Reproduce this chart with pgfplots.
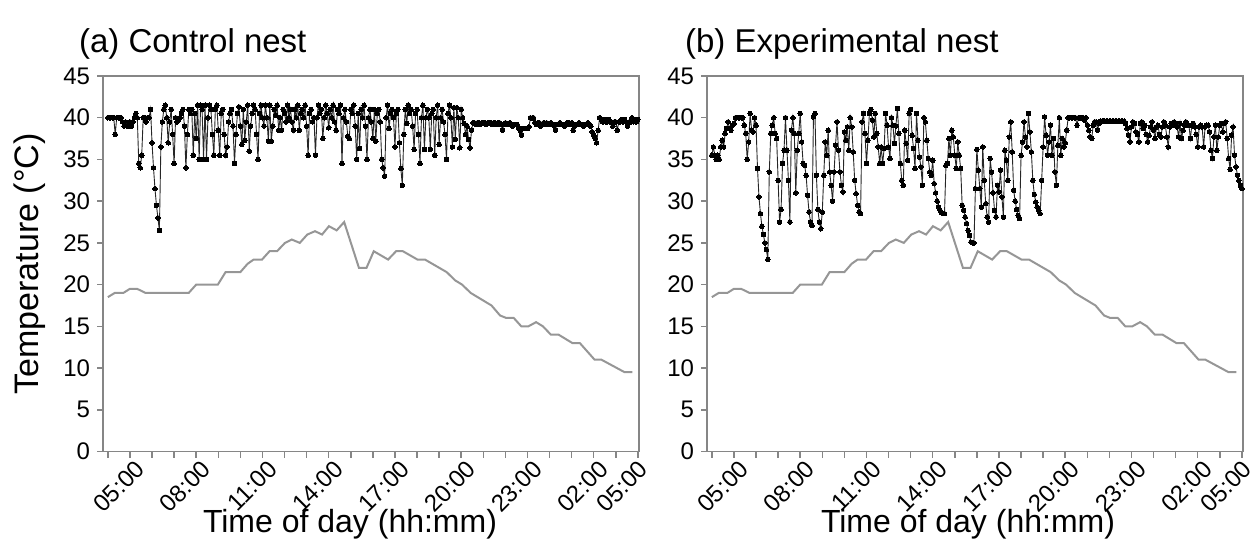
\documentclass[border=0pt]{standalone}
\usepackage{fontspec}
\setmainfont{Liberation Sans}
\usepackage{pgfplots}
\usepackage{pgfplotstable}
\pgfplotsset{compat=1.18}

\definecolor{axgray}{RGB}{134,134,134}
\definecolor{ambgray}{RGB}{150,150,150}

% ambient temperature, hours after 05:00
\pgfplotstableread{
h T
0 18.5
0.31 19
0.7 19
1.0 19.5
1.32 19.5
1.71 19
3.66 19
4.0 20
4.98 20
5.33 21.5
6.0 21.5
6.33 22.5
6.6 23
6.98 23
7.32 24
7.66 24
8.02 25
8.33 25.4
8.69 25
9.03 26
9.38 26.4
9.7 26
10.01 27
10.36 26.5
10.7 27.5
11.37 22
11.71 22
12.04 24
12.69 23
13.05 24
13.36 24
14.02 23
14.36 23
15.34 21.5
15.73 20.5
16.04 20
16.43 19
17.37 17.5
17.76 16.3
18.04 16
18.38 16
18.72 15
19.04 15
19.39 15.5
19.7 15
20.06 14
20.41 14
21.03 13
21.37 13
22.04 11
22.35 11
23.4 9.5
23.75 9.5
}\ambient

% control nest, one reading every 4 min from 05:00 (15 per row = 1 h)
\pgfplotstableread[row sep=\\]{
T\\
40\\ 40\\ 40\\ 40\\ 40\\ 38\\ 40\\ 40\\ 40\\ 40\\ 39.5\\ 39\\ 39.5\\ 39\\ 39\\
39.5\\ 39\\ 39.5\\ 40\\ 40.5\\ 40\\ 34.5\\ 34\\ 35.5\\ 40\\ 40\\ 39.5\\ 40\\ 40\\ 41\\
37\\ 34\\ 31.5\\ 29.5\\ 28\\ 26.5\\ 36.5\\ 39.5\\ 41\\ 41.5\\ 40\\ 37\\ 39.5\\ 41\\ 38\\
34.5\\ 40\\ 39.5\\ 39.7\\ 40\\ 40.5\\ 41\\ 39\\ 34\\ 38\\ 41\\ 40.5\\ 41\\ 35.5\\ 40.5\\
37.5\\ 41.5\\ 35\\ 41.5\\ 41\\ 35\\ 41.5\\ 35\\ 40\\ 41.5\\ 41\\ 38\\ 35.5\\ 41\\ 41.5\\
38.5\\ 35.5\\ 40.5\\ 41\\ 38\\ 35.5\\ 36.5\\ 39.5\\ 40.5\\ 41\\ 39\\ 34.5\\ 38\\ 40.5\\ 41.3\\
39\\ 36.8\\ 41\\ 37.3\\ 39.5\\ 41.5\\ 36\\ 39\\ 40.5\\ 41.5\\ 41\\ 38\\ 35\\ 40.5\\ 41.5\\
40\\ 39\\ 41.5\\ 40\\ 37.2\\ 41.5\\ 37.2\\ 39\\ 41\\ 40.3\\ 41.5\\ 38.5\\ 40\\ 38.5\\ 41\\
40.5\\ 39.5\\ 41.5\\ 40\\ 41\\ 39.5\\ 38.5\\ 41\\ 40\\ 41.5\\ 38.5\\ 40.5\\ 41\\ 40\\ 41.5\\
39\\ 35.5\\ 40.5\\ 41\\ 39.5\\ 40\\ 35.5\\ 40\\ 41.5\\ 40.5\\ 41\\ 37.5\\ 40\\ 41.5\\ 40.5\\
38.8\\ 41\\ 40\\ 41.5\\ 39.5\\ 38.5\\ 41\\ 40.5\\ 41.5\\ 34.5\\ 40\\ 41\\ 39.5\\ 37.8\\ 37.5\\
41\\ 40.5\\ 41.5\\ 39\\ 35\\ 40.5\\ 36.3\\ 41\\ 40\\ 41.5\\ 39\\ 35\\ 40\\ 41\\ 39.5\\
37.5\\ 41\\ 37.2\\ 40.5\\ 41\\ 39.5\\ 35\\ 34\\ 33\\ 40\\ 41.5\\ 38.7\\ 40.5\\ 41\\ 40\\
36.5\\ 40.5\\ 41\\ 37\\ 33.9\\ 31.9\\ 38\\ 41\\ 39.3\\ 41.5\\ 40.5\\ 41\\ 39\\ 36.2\\ 40.5\\
41\\ 38\\ 34.5\\ 40\\ 41.5\\ 36.2\\ 40\\ 41\\ 40\\ 36.2\\ 40.5\\ 41\\ 35.5\\ 40\\ 41.5\\
36.8\\ 40\\ 41\\ 39.5\\ 38\\ 35\\ 40.5\\ 41.5\\ 40\\ 36.5\\ 41.2\\ 37.4\\ 41.2\\ 40\\ 36.4\\
41\\ 40\\ 39.3\\ 38\\ 39\\ 37.4\\ 36.4\\ 38.5\\ 39.4\\ 39.4\\ 39.2\\ 39.4\\ 39.4\\ 39.2\\ 39.4\\
39.4\\ 39.4\\ 39.2\\ 39.4\\ 39.4\\ 39.4\\ 39.2\\ 39.4\\ 39.4\\ 39.2\\ 39.4\\ 39.4\\ 39.2\\ 38.5\\ 39.2\\
39.4\\ 39.2\\ 39.2\\ 39.4\\ 39.2\\ 39\\ 39.2\\ 39.2\\ 39.2\\ 38.8\\ 38.5\\ 37.9\\ 38.7\\ 38.7\\ 38.7\\
38.7\\ 38.9\\ 40\\ 39.9\\ 40\\ 39.4\\ 39.2\\ 39.4\\ 39.4\\ 39\\ 39.2\\ 39.4\\ 39.2\\ 39.4\\ 39.2\\
39.2\\ 39.4\\ 39.2\\ 39\\ 38.5\\ 39.2\\ 39.2\\ 39.4\\ 39.2\\ 39.2\\ 39\\ 39.2\\ 39.4\\ 39.4\\ 39.2\\
39.4\\ 38.5\\ 39\\ 39.2\\ 39.2\\ 39.4\\ 39.2\\ 39.2\\ 39\\ 39.2\\ 39.2\\ 39.4\\ 39.2\\ 39\\ 38.3\\
37.9\\ 37.5\\ 37\\ 38.5\\ 40\\ 39.8\\ 39.5\\ 39.8\\ 39.5\\ 39.5\\ 39.8\\ 39.5\\ 39.5\\ 39\\ 39.5\\
39.5\\ 38.5\\ 39.5\\ 39.5\\ 39.8\\ 39.5\\ 39.8\\ 39.5\\ 39\\ 39.5\\ 39.5\\ 40\\ 39.5\\ 39.8\\ 39.5\\
39.8\\
}\nestA

% experimental nest, same sampling
\pgfplotstableread[row sep=\\]{
T\\
35.5\\ 36.5\\ 35.5\\ 35\\ 35.5\\ 35\\ 36.5\\ 37.3\\ 36.5\\ 38.1\\ 38.7\\ 39.5\\ 38.7\\ 38.5\\ 39.1\\
39.3\\ 40\\ 40\\ 40\\ 40\\ 40\\ 40\\ 39.1\\ 38.1\\ 35\\ 37.1\\ 40.5\\ 38.5\\ 38.3\\ 40\\
39.1\\ 33.9\\ 30.5\\ 28.5\\ 27\\ 26\\ 25\\ 24.2\\ 23\\ 33.5\\ 38.1\\ 39.1\\ 40\\ 38.1\\ 37.5\\
32.5\\ 27.5\\ 29\\ 34.5\\ 36.1\\ 40\\ 36.1\\ 32.5\\ 27.5\\ 38.5\\ 40\\ 38.1\\ 31\\ 36.1\\ 38.1\\
40.5\\ 37.1\\ 34.5\\ 34.3\\ 33.1\\ 30.7\\ 28.7\\ 27.5\\ 27.1\\ 40.1\\ 40.5\\ 33.1\\ 29\\ 27.5\\ 26.7\\
28.7\\ 33.1\\ 37.1\\ 35.5\\ 38.5\\ 33.5\\ 31.9\\ 30\\ 33.5\\ 36.7\\ 39.5\\ 36.1\\ 33.5\\ 31.9\\ 31.1\\
38.3\\ 37.3\\ 38.9\\ 36.1\\ 40\\ 38.9\\ 35.9\\ 32.5\\ 30.9\\ 29.5\\ 28.7\\ 28.5\\ 39.5\\ 40.5\\ 38.1\\
34.5\\ 37.3\\ 40.5\\ 41\\ 39.7\\ 37.7\\ 40.5\\ 38.1\\ 36.5\\ 34.5\\ 36.5\\ 34.5\\ 36.3\\ 40.5\\ 39.1\\
36.5\\ 35.1\\ 40\\ 39.1\\ 36.9\\ 39\\ 41.1\\ 38.1\\ 34.5\\ 32.5\\ 31.9\\ 38.5\\ 36.9\\ 34.9\\ 40.5\\
41\\ 37.9\\ 36.3\\ 33.9\\ 40.5\\ 37.3\\ 35.3\\ 34.1\\ 31.9\\ 40\\ 39.5\\ 37.3\\ 35.1\\ 33.5\\ 33.1\\
34.9\\ 32.1\\ 31\\ 30\\ 29.3\\ 28.9\\ 28.6\\ 28.5\\ 28.5\\ 34.3\\ 34.5\\ 37.5\\ 35.5\\ 38.5\\ 37.7\\
35.5\\ 33.9\\ 37.1\\ 35.5\\ 33.9\\ 29.5\\ 28.9\\ 28.1\\ 27.3\\ 26.5\\ 25.9\\ 25.1\\ 25\\ 25\\ 31.5\\
36.2\\ 33.7\\ 31.5\\ 29.3\\ 36.5\\ 32.5\\ 29.7\\ 28.1\\ 27.5\\ 35.1\\ 33.5\\ 31\\ 28.9\\ 28.1\\ 31.9\\
31.1\\ 33.7\\ 30.5\\ 28.1\\ 36.1\\ 34.9\\ 32.5\\ 37.7\\ 39.5\\ 35.9\\ 31.3\\ 30\\ 29\\ 28.3\\ 27.9\\
35.5\\ 37.1\\ 39.5\\ 37.7\\ 36.5\\ 40.5\\ 38.3\\ 35.9\\ 32.5\\ 30.8\\ 29.9\\ 29.3\\ 28.9\\ 28.5\\ 32.5\\
36.5\\ 40.1\\ 37.9\\ 35.5\\ 37.1\\ 39.1\\ 35.5\\ 37.5\\ 33.5\\ 31.9\\ 36.7\\ 40\\ 35.5\\ 37.5\\ 36.5\\
37\\ 38.5\\ 40\\ 40\\ 40\\ 40\\ 40\\ 40\\ 39.1\\ 40\\ 40\\ 40\\ 40\\ 39.7\\ 40\\
39.1\\ 38.5\\ 37.7\\ 37.5\\ 39.1\\ 39.5\\ 39.5\\ 38.5\\ 39.3\\ 39.6\\ 39.6\\ 39.6\\ 39.6\\ 39.6\\ 39.6\\
39.6\\ 39.6\\ 39.6\\ 39.6\\ 39.6\\ 39.6\\ 39.6\\ 39.6\\ 39.6\\ 39.6\\ 39.6\\ 39.3\\ 38.7\\ 37.9\\ 37.1\\
38.9\\ 39.5\\ 39.3\\ 38.3\\ 38\\ 37.1\\ 39.3\\ 39.5\\ 38.7\\ 39.1\\ 38\\ 37.1\\ 37.9\\ 38.9\\ 39.5\\
38.5\\ 37.5\\ 38.9\\ 39.1\\ 38\\ 37.7\\ 38.9\\ 39.5\\ 39.1\\ 37.7\\ 36.5\\ 38.9\\ 39.3\\ 39.1\\ 39.5\\
39.3\\ 38.9\\ 37.7\\ 39.3\\ 37.5\\ 38.5\\ 39.1\\ 39.5\\ 39.1\\ 39.1\\ 37.5\\ 39.1\\ 39.3\\ 38.9\\ 38\\
36.5\\ 38.9\\ 39.1\\ 38.9\\ 36.5\\ 38.9\\ 39.1\\ 39.1\\ 38.3\\ 36.1\\ 35.1\\ 37.7\\ 39.1\\ 36.1\\ 37.7\\
39.1\\ 39.3\\ 38.3\\ 39.3\\ 39.5\\ 37.5\\ 35.1\\ 33.8\\ 37.9\\ 38.9\\ 35.5\\ 34.1\\ 33.1\\ 32.5\\ 31.9\\
31.5\\
}\nestB

\pgfplotsset{
  tempaxis/.style={
    scale only axis,
    width=268bp, height=187.75bp,
    xmin=-0.22, xmax=24.05, ymin=0, ymax=45,
    xtick={0,3,...,21},
    xticklabels={05:00,08:00,11:00,14:00,17:00,20:00,23:00,02:00},
    extra x ticks={24},
    extra x tick labels={05:00},
    % the last label is pulled in so that it stays inside the chart
    extra x tick style={x tick label style={xshift=-9.5bp, yshift=9.5bp}},
    minor xtick={1,2,4,5,7,8,10,11,13,14,16,17,19,20,22,23},
    ytick={0,5,...,45},
    xtick pos=lower, ytick pos=left,
    tick align=outside,
    major tick length=3bp, minor tick length=3bp,
    axis line style={draw=axgray, line width=0.75bp},
    every tick/.style={draw=axgray, line width=0.75bp},
    minor tick style={draw=axgray, line width=0.75bp},
    ticklabel style={font=\fontsize{12bp}{14bp}\selectfont},
    x tick label style={xshift=17bp, yshift=-3bp, rotate=45, anchor=east, inner sep=1bp},
    /pgf/number format/assume math mode=true,
    clip=false,
  },
  ambline/.style={draw=ambgray, line width=1bp, mark=none},
  nestline/.style={draw=black!85, line width=0.45bp, mark=*,
    mark size=1.15bp, mark options={draw=black, fill=black, line width=0pt}},
}

\begin{document}
\begin{tikzpicture}
\useasboundingbox (0,0) rectangle (628bp,272bp);

\begin{axis}[tempaxis, at={(51.5bp,46.25bp)}, anchor=south west]
\addplot[ambline] table[x=h, y=T] {\ambient};
\addplot[nestline] table[x expr=\coordindex/15, y=T] {\nestA};
\end{axis}

\begin{axis}[tempaxis, at={(353.5bp,46.25bp)}, anchor=south west]
\addplot[ambline] table[x=h, y=T] {\ambient};
\addplot[nestline] table[x expr=\coordindex/15, y=T] {\nestB};
\end{axis}

\node[anchor=base west, font=\fontsize{16.5bp}{19bp}\selectfont] at (36bp,245.5bp) {(a) Control nest};
\node[anchor=base west, font=\fontsize{16.5bp}{19bp}\selectfont] at (339bp,245.5bp) {(b) Experimental nest};
\node[rotate=90, font=\fontsize{17bp}{20bp}\selectfont] at (15bp,140bp) {Temperature (°C)};
\node[anchor=base, font=\fontsize{16bp}{19bp}\selectfont] at (175bp,6bp) {Time of day (hh:mm)};
\node[anchor=base, font=\fontsize{16bp}{19bp}\selectfont] at (484bp,6bp) {Time of day (hh:mm)};
\end{tikzpicture}
\end{document}
